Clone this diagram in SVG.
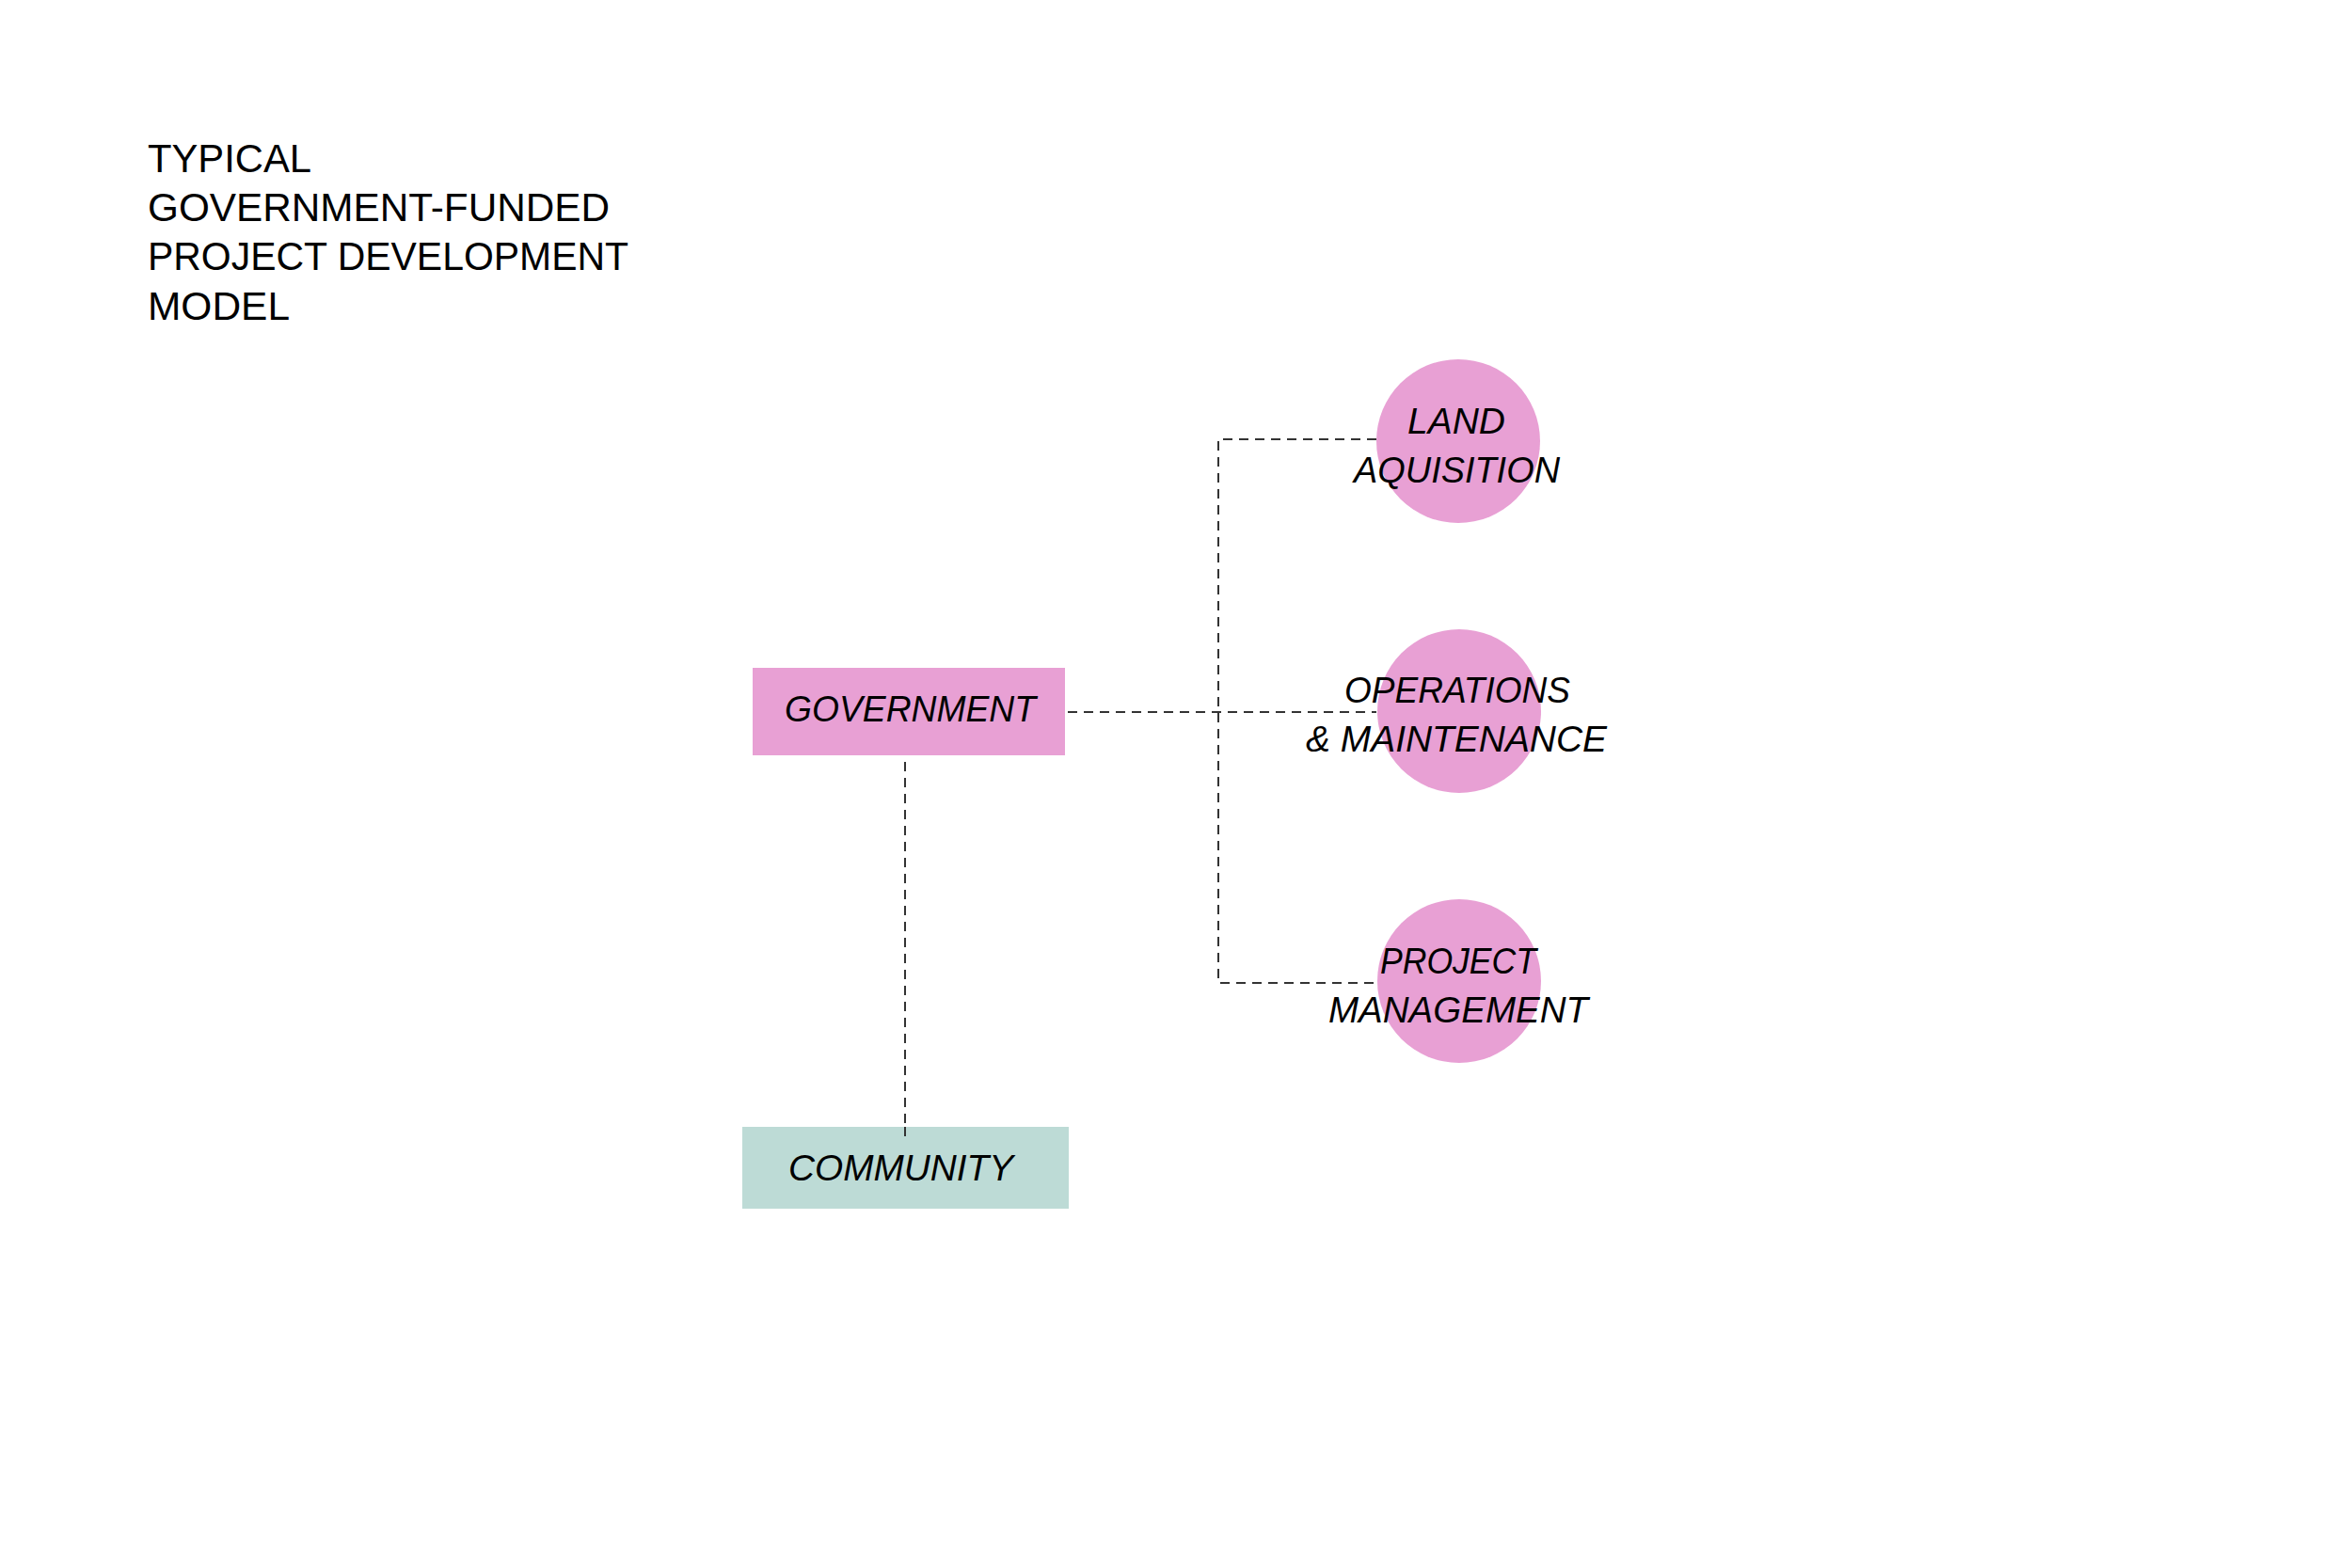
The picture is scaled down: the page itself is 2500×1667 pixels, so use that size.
<svg xmlns="http://www.w3.org/2000/svg" width="2500" height="1667" viewBox="0 0 2500 1667">
<style>
.title{font-family:"Liberation Sans",Arial,sans-serif;font-size:42px;fill:#000}
.lbl{font-family:"Liberation Sans",Arial,sans-serif;font-size:39px;font-style:italic;fill:#000}
.pink{fill:#E8A0D4}
.teal{fill:#BDDBD6}
.conn{fill:none;stroke:#333;stroke-width:2;stroke-dasharray:10 7}
</style>
<rect width="2500" height="1667" fill="#fff"/>
<g id="title">
<text class="title" x="157" y="183" textLength="174" lengthAdjust="spacingAndGlyphs">TYPICAL</text>
<text class="title" x="157" y="235" textLength="491" lengthAdjust="spacingAndGlyphs">GOVERNMENT-FUNDED</text>
<text class="title" x="157" y="287" textLength="511" lengthAdjust="spacingAndGlyphs">PROJECT DEVELOPMENT</text>
<text class="title" x="157" y="340" textLength="151" lengthAdjust="spacingAndGlyphs">MODEL</text>
</g>
<g id="connectors">
<path class="conn" d="M1135 757 H1463"/>
<path class="conn" d="M1463 467 H1295 V1045 H1463"/>
<path class="conn" d="M962 810 V1208"/>
</g>
<g id="government">
<rect class="pink" x="800" y="710" width="332" height="93"/>
<text class="lbl" x="834" y="767" textLength="267" lengthAdjust="spacingAndGlyphs">GOVERNMENT</text>
</g>
<g id="community">
<rect class="teal" x="789" y="1198" width="347" height="87"/>
<path class="conn" d="M962 1198 V1208"/>
<text class="lbl" x="838" y="1255" textLength="239" lengthAdjust="spacingAndGlyphs">COMMUNITY</text>
</g>
<g id="land">
<circle class="pink" cx="1550" cy="469" r="87"/>
<text class="lbl" x="1496" y="461" textLength="104" lengthAdjust="spacingAndGlyphs">LAND</text>
<text class="lbl" x="1439" y="513" textLength="219" lengthAdjust="spacingAndGlyphs">AQUISITION</text>
</g>
<g id="operations">
<circle class="pink" cx="1551" cy="756" r="87"/>
<text class="lbl" x="1429" y="747" textLength="240" lengthAdjust="spacingAndGlyphs">OPERATIONS</text>
<text class="lbl" x="1388" y="799" textLength="320" lengthAdjust="spacingAndGlyphs">&amp; MAINTENANCE</text>
</g>
<g id="project">
<circle class="pink" cx="1551" cy="1043" r="87"/>
<text class="lbl" x="1467" y="1035" textLength="166" lengthAdjust="spacingAndGlyphs">PROJECT</text>
<text class="lbl" x="1412" y="1087" textLength="276" lengthAdjust="spacingAndGlyphs">MANAGEMENT</text>
</g>
</svg>
